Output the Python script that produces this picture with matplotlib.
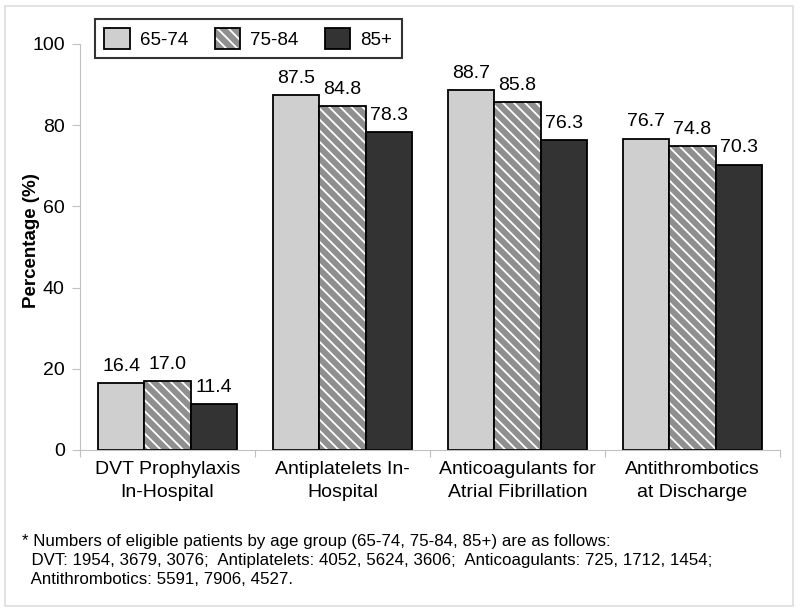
import numpy as np
import matplotlib.pyplot as plt
from matplotlib.patches import Patch, Rectangle

plt.rcParams['font.family'] = ['Liberation Sans', 'DejaVu Sans']
plt.rcParams['hatch.linewidth'] = 1.3

# data
categories = ['DVT Prophylaxis\nIn-Hospital', 'Antiplatelets In-\nHospital',
              'Anticoagulants for\nAtrial Fibrillation', 'Antithrombotics\nat Discharge']
groups = ['65-74', '75-84', '85+']
v_65_74 = [16.4, 87.5, 88.7, 76.7]
v_75_84 = [17.0, 84.8, 85.8, 74.8]
v_85 = [11.4, 78.3, 76.3, 70.3]
footnote = ("* Numbers of eligible patients by age group (65-74, 75-84, 85+) are as follows:\n"
            "  DVT: 1954, 3679, 3076;  Antiplatelets: 4052, 5624, 3606;  Anticoagulants: 725, 1712, 1454;\n"
            "  Antithrombotics: 5591, 7906, 4527.")

fig = plt.figure(figsize=(8, 6.12), dpi=100)
ax = fig.add_axes([0.1, 1 - 450 / 612, 0.875, (450 - 44) / 612])

x = np.arange(len(categories))
w = 0.263
series = [v_65_74, v_75_84, v_85]
faces = ['#cfcfcf', '#8f8f8f', '#333333']
handles = []
for i, (vals, fc) in enumerate(zip(series, faces)):
    pos = x + (i - 1) * w
    if i == 1:
        ax.bar(pos, vals, w, color=fc, edgecolor='white', linewidth=0, hatch='\\\\\\')
        ax.bar(pos, vals, w, fill=False, edgecolor='black', linewidth=1.3)
        handles.append((Patch(facecolor=fc, edgecolor='white', linewidth=0, hatch='\\\\\\'),
                        Patch(fill=False, edgecolor='black', linewidth=1.3)))
    else:
        ax.bar(pos, vals, w, color=fc, edgecolor='black', linewidth=1.3)
        handles.append(Patch(facecolor=fc, edgecolor='black', linewidth=1.3))
    for p, v in zip(pos, vals):
        ax.text(p, v + 2.0, f'{v:.1f}', ha='center', va='bottom', fontsize=14)

ax.set_xlim(-0.5, len(categories) - 0.5)
ax.set_ylim(0, 100)
ax.set_yticks([0, 20, 40, 60, 80, 100])
ax.tick_params(axis='y', labelsize=14, color='#c0c0c0', length=6, pad=5)
ax.set_xticks(np.arange(len(categories) + 1) - 0.5)
ax.set_xticklabels([])
ax.tick_params(axis='x', which='major', color='#c0c0c0', length=5)
ax.set_xticks(x, minor=True)
ax.set_xticklabels(categories, minor=True, fontsize=14, linespacing=1.45)
ax.tick_params(axis='x', which='minor', length=0, pad=8)
for s in ['top', 'right']:
    ax.spines[s].set_visible(False)
for s in ['left', 'bottom']:
    ax.spines[s].set_color('#c0c0c0')
ax.set_ylabel('Percentage (%)', fontsize=13.5, fontweight='bold')
ax.yaxis.set_label_coords(-40 / 700, 0.517)

leg = fig.legend(handles, groups, loc='upper left', bbox_to_anchor=(95 / 800, 1 - 19 / 612),
                 borderaxespad=0, ncol=3, fontsize=13.5, frameon=True, fancybox=False,
                 edgecolor='black', handlelength=1.35, handleheight=1.3, columnspacing=1.4,
                 handletextpad=0.55, borderpad=0.5)
leg.get_frame().set_linewidth(1.5)

fig.text(22 / 800, 1 - 534 / 612, footnote, ha='left', va='top', fontsize=12.2,
         linespacing=1.35)

fig.patches.append(Rectangle((5 / 800, 1 - 606 / 612), 788 / 800, 600 / 612,
                             transform=fig.transFigure, fill=False, edgecolor='#dddddd', linewidth=1.2))

fig.savefig('out.png', dpi=100)
